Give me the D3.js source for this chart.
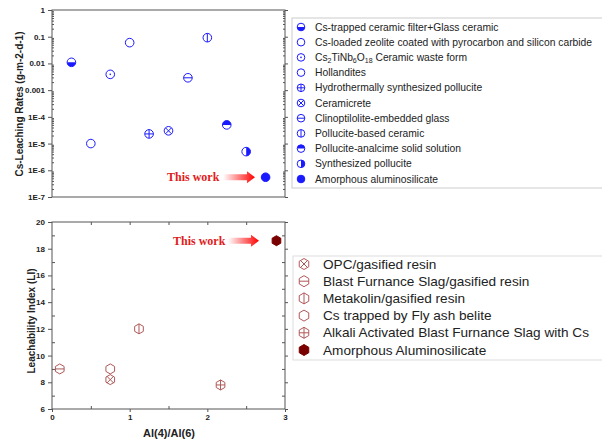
<!DOCTYPE html>
<html>
<head>
<meta charset="utf-8">
<script src="https://cdn.jsdelivr.net/npm/d3@7"></script>
<style>
  body { margin: 0; background: #fff; }
  svg { display: block; font-family: "Liberation Sans", Arial, sans-serif; }
  .tick text { font-weight: bold; font-size: 8px; fill: #222; }
  .domain { stroke: #555; }
  .tick line { stroke: #555; }
</style>
</head>
<body>
<div id="chart"></div>
<script>
// top panel: leaching rate vs sample index
const topNames = [
  'Cs-trapped ceramic filter+Glass ceramic',
  'Cs-loaded zeolite coated with pyrocarbon and silicon carbide',
  'Cs2TiNb6O18 Ceramic waste form',
  'Hollandites',
  'Hydrothermally synthesized pollucite',
  'Ceramicrete',
  'Clinoptilolite-embedded glass',
  'Pollucite-based ceramic',
  'Pollucite-analcime solid solution',
  'Synthesized pollucite',
  'Amorphous aluminosilicate'
];
const topSymbols = ['halfBottom', 'open', 'dot', 'open', 'plus', 'cross', 'hline', 'vline', 'halfTop', 'halfRight', 'filled'];
const topX = [0.25, 0.5, 0.75, 1.0, 1.25, 1.5, 1.75, 2.0, 2.25, 2.5, 2.75];
const topRate = [0.011, 1e-5, 0.0039, 0.06, 2.3e-5, 3e-5, 0.0029, 0.092, 5e-5, 5e-6, 5.5e-7];
const topTicks = [1, 0.1, 0.01, 0.001, 1e-4, 1e-5, 1e-6, 1e-7];
const topTickLabels = ['1', '0.1', '0.01', '0.001', '1E-4', '1E-5', '1E-6', '1E-7'];

// bottom panel: leachability index vs Al(4)/Al(6)
const botNames = [
  'OPC/gasified resin',
  'Blast Furnance Slag/gasified resin',
  'Metakolin/gasified resin',
  'Cs trapped by Fly ash belite',
  'Alkali Activated Blast Furnance Slag with Cs',
  'Amorphous Aluminosilicate'
];
const botSymbols = ['cross', 'hline', 'vline', 'open', 'plus', 'filled'];
const botX = [0.75, 0.1, 1.12, 0.75, 2.17, 2.89];
const botLI = [8.2, 9.0, 12.0, 9.0, 7.8, 18.6];
const botYTicks = [6, 8, 10, 12, 14, 16, 18, 20];
const botXTicks = [0, 1, 2, 3];

const W = 602, H = 442;
const blue = '#1a1aff', red = '#b05858', darkRed = '#7a0000';

const svg = d3.select('#chart').append('svg').attr('width', W).attr('height', H);

const x = d3.scaleLinear().domain([0, 3]).range([52, 285]);
const yTop = d3.scaleLog().domain([1e-7, 1]).range([197, 10]);
const yBot = d3.scaleLinear().domain([6, 20]).range([409, 222]);

function frame(y0, y1) {
  svg.append('rect').attr('x', 52).attr('y', y0).attr('width', 233).attr('height', y1 - y0)
    .attr('fill', 'none').attr('stroke', '#555').attr('stroke-width', 1);
}

// marker drawing: circles on top, hexagons on bottom
function hexPath(r) {
  const pts = d3.range(6).map(i => {
    const a = Math.PI / 3 * i - Math.PI / 2;
    return [r * Math.cos(a), r * Math.sin(a)];
  });
  return 'M' + pts.map(p => p.join(',')).join('L') + 'Z';
}

function marker(g, type, color, r, hex, fillColor) {
  const outline = hex ? hexPath(r) : d3.arc()({innerRadius: 0, outerRadius: r, startAngle: 0, endAngle: 2 * Math.PI});
  const sw = 1;
  if (type === 'filled') {
    g.append('path').attr('d', outline).attr('fill', fillColor || color).attr('stroke', fillColor || color);
    return;
  }
  if (type === 'halfBottom' || type === 'halfTop' || type === 'halfRight') {
    const s = {halfBottom: Math.PI / 2, halfTop: -Math.PI / 2, halfRight: 0}[type];
    g.append('path').attr('d', d3.arc()({innerRadius: 0, outerRadius: r, startAngle: s, endAngle: s + Math.PI}))
      .attr('fill', color);
  }
  g.append('path').attr('d', outline).attr('fill', 'white').attr('fill-opacity', type.startsWith('half') ? 0 : 1)
    .attr('stroke', color).attr('stroke-width', sw);
  const k = hex ? r * 0.87 : r;
  if (type === 'dot') g.append('circle').attr('r', 0.8).attr('fill', color);
  if (type === 'plus' || type === 'hline') g.append('line').attr('x1', -k).attr('x2', k).attr('stroke', color).attr('stroke-width', sw);
  if (type === 'plus' || type === 'vline') g.append('line').attr('y1', -r).attr('y2', r).attr('stroke', color).attr('stroke-width', sw);
  if (type === 'cross') {
    const c = r * 0.7;
    g.append('line').attr('x1', -c).attr('y1', -c).attr('x2', c).attr('y2', c).attr('stroke', color).attr('stroke-width', sw);
    g.append('line').attr('x1', -c).attr('y1', c).attr('x2', c).attr('y2', -c).attr('stroke', color).attr('stroke-width', sw);
  }
}

// ---------- top panel ----------
frame(10, 197);
const minorTop = [];
d3.range(-7, 0).forEach(e => d3.range(2, 10).forEach(m => minorTop.push(m * Math.pow(10, e))));

svg.append('g').attr('transform', 'translate(52,0)')
  .call(d3.axisLeft(yTop).tickValues(topTicks).tickFormat((d, i) => topTickLabels[i]).tickSize(4).tickPadding(3))
  .call(g => g.select('.domain').remove());
svg.append('g').attr('transform', 'translate(52,0)')
  .call(d3.axisRight(yTop).tickValues(minorTop).tickFormat('').tickSize(2))
  .call(g => g.select('.domain').remove());
svg.append('g').attr('transform', 'translate(285,0)')
  .call(d3.axisRight(yTop).tickValues(topTicks).tickFormat('').tickSize(3))
  .call(g => g.select('.domain').remove());
svg.append('g').attr('transform', 'translate(285,0)')
  .call(d3.axisLeft(yTop).tickValues(minorTop).tickFormat('').tickSize(2))
  .call(g => g.select('.domain').remove());

topX.forEach((v, i) => {
  const g = svg.append('g').attr('transform', `translate(${x(v)},${yTop(topRate[i])})`);
  marker(g, topSymbols[i], blue, 4.3, false);
});

svg.append('text').attr('transform', 'translate(23,104) rotate(-90)').attr('text-anchor', 'middle')
  .attr('font-size', 10).attr('font-weight', 'bold').attr('fill', '#222')
  .text('Cs-Leaching Rates (g-m-2-d-1)');

// top legend
svg.append('rect').attr('x', 292).attr('y', 18).attr('width', 320).attr('height', 170)
  .attr('fill', 'none').attr('stroke', '#ccc');
topNames.forEach((n, i) => {
  const yy = 27 + i * 15.2;
  const g = svg.append('g').attr('transform', `translate(301,${yy})`);
  marker(g, topSymbols[i], blue, 3.8, false);
  const t = svg.append('text').attr('x', 315).attr('y', yy + 3.5).attr('font-size', 10.3).attr('fill', '#222');
  if (n.startsWith('Cs2TiNb6O18')) {
    t.append('tspan').text('Cs');
    t.append('tspan').attr('font-size', 7).attr('dy', 2).text('2');
    t.append('tspan').attr('dy', -2).text('TiNb');
    t.append('tspan').attr('font-size', 7).attr('dy', 2).text('6');
    t.append('tspan').attr('dy', -2).text('O');
    t.append('tspan').attr('font-size', 7).attr('dy', 2).text('18');
    t.append('tspan').attr('dy', -2).text(' Ceramic waste form');
  } else {
    t.text(n);
  }
});

// ---------- bottom panel ----------
frame(222, 409);
const minorBotY = d3.range(7, 20, 2);
const minorBotX = [0.5, 1.5, 2.5];

svg.append('g').attr('transform', 'translate(52,0)')
  .call(d3.axisLeft(yBot).tickValues(botYTicks).tickFormat(d3.format('d')).tickSize(4).tickPadding(3))
  .call(g => g.select('.domain').remove());
svg.append('g').attr('transform', 'translate(52,0)')
  .call(d3.axisRight(yBot).tickValues(minorBotY).tickFormat('').tickSize(3))
  .call(g => g.select('.domain').remove());
svg.append('g').attr('transform', 'translate(285,0)')
  .call(d3.axisRight(yBot).tickValues(botYTicks).tickFormat('').tickSize(3))
  .call(g => g.select('.domain').remove());
svg.append('g').attr('transform', 'translate(285,0)')
  .call(d3.axisLeft(yBot).tickValues(minorBotY).tickFormat('').tickSize(3))
  .call(g => g.select('.domain').remove());
svg.append('g').attr('transform', 'translate(0,409)')
  .call(d3.axisBottom(x).tickValues(botXTicks).tickFormat(d3.format('d')).tickSize(3).tickPadding(2))
  .call(g => g.select('.domain').remove());
svg.append('g').attr('transform', 'translate(0,409)')
  .call(d3.axisTop(x).tickValues(minorBotX).tickFormat('').tickSize(3))
  .call(g => g.select('.domain').remove());
svg.append('g').attr('transform', 'translate(0,222)')
  .call(d3.axisBottom(x).tickValues(minorBotX.concat([1, 2])).tickFormat('').tickSize(3))
  .call(g => g.select('.domain').remove());

botX.forEach((v, i) => {
  const g = svg.append('g').attr('transform', `translate(${x(v)},${yBot(botLI[i])})`);
  marker(g, botSymbols[i], red, 5, true, darkRed);
});

svg.append('text').attr('transform', 'translate(35,321) rotate(-90)').attr('text-anchor', 'middle')
  .attr('font-size', 10).attr('font-weight', 'bold').attr('fill', '#222')
  .text('Leachability Index (LI)');
svg.append('text').attr('x', 169).attr('y', 437).attr('text-anchor', 'middle')
  .attr('font-size', 11).attr('font-weight', 'bold').attr('fill', '#222')
  .text('Al(4)/Al(6)');

// bottom legend
svg.append('rect').attr('x', 293).attr('y', 256).attr('width', 320).attr('height', 104)
  .attr('fill', 'none').attr('stroke', '#ddd');
botNames.forEach((n, i) => {
  const yy = 264 + i * 17.2;
  const g = svg.append('g').attr('transform', `translate(304,${yy})`);
  marker(g, botSymbols[i], red, 5.5, true, darkRed);
  svg.append('text').attr('x', 323).attr('y', yy + 4.5).attr('font-size', 13.6).attr('fill', '#222').text(n);
});

// "This work" callouts
const grad = svg.append('defs').append('linearGradient').attr('id', 'arr');
grad.append('stop').attr('offset', '0%').attr('stop-color', '#fff');
grad.append('stop').attr('offset', '100%').attr('stop-color', '#f00');

function callout(tx, ty, ax0, ax1) {
  svg.append('text').attr('x', tx).attr('y', ty + 4).attr('font-family', '"Liberation Serif", serif')
    .attr('font-weight', 'bold').attr('font-size', 12).attr('fill', '#e02020').text('This work');
  const h = 3, hh = 6, hl = 8;
  svg.append('path')
    .attr('d', `M${ax0},${ty - h}L${ax1 - hl},${ty - h}L${ax1 - hl},${ty - hh}L${ax1},${ty}L${ax1 - hl},${ty + hh}L${ax1 - hl},${ty + h}L${ax0},${ty + h}Z`)
    .attr('fill', 'url(#arr)');
}
callout(167, yTop(topRate[10]), 223, 255);
callout(173, yBot(botLI[5]), 228, 259);
</script>
</body>
</html>
